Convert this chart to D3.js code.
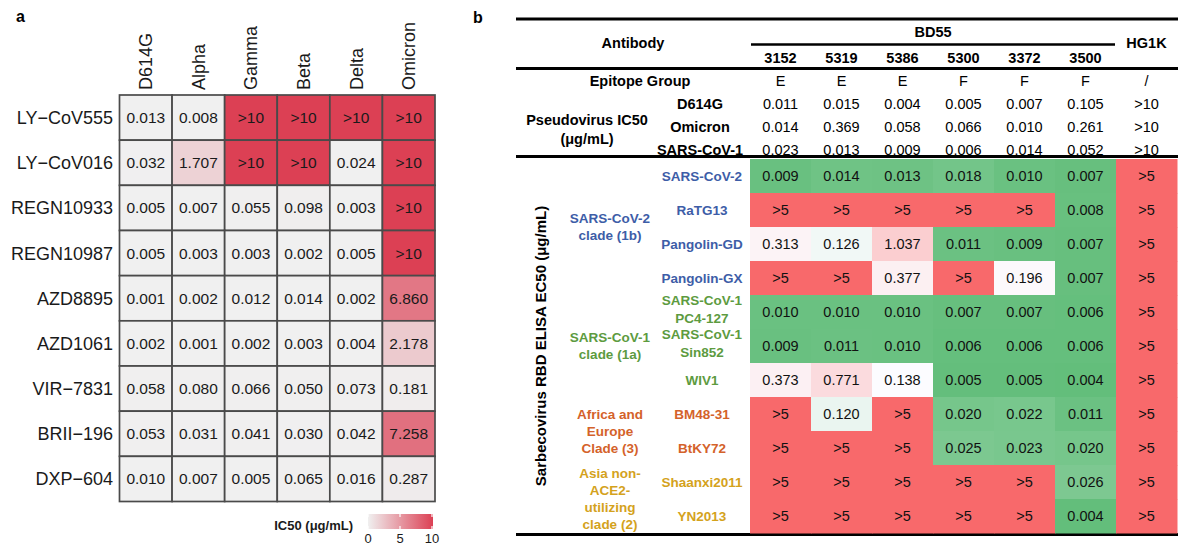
<!DOCTYPE html>
<html>
<head>
<meta charset="utf-8">
<script src="https://cdn.jsdelivr.net/npm/d3@7"></script>
<style>
body { margin: 0; background: #fff; }
svg { font-family: "Liberation Sans", Arial, sans-serif; }
</style>
</head>
<body>
<div class="graph"></div>
<script>
// panel a
const variants = ['D614G', 'Alpha', 'Gamma', 'Beta', 'Delta', 'Omicron'];
const antibodiesA = ['LY−CoV555', 'LY−CoV016', 'REGN10933', 'REGN10987', 'AZD8895', 'AZD1061', 'VIR−7831', 'BRII−196', 'DXP−604'];
const ic50A = [
    ['0.013', '0.008', '>10', '>10', '>10', '>10'],
    ['0.032', '1.707', '>10', '>10', '0.024', '>10'],
    ['0.005', '0.007', '0.055', '0.098', '0.003', '>10'],
    ['0.005', '0.003', '0.003', '0.002', '0.005', '>10'],
    ['0.001', '0.002', '0.012', '0.014', '0.002', '6.860'],
    ['0.002', '0.001', '0.002', '0.003', '0.004', '2.178'],
    ['0.058', '0.080', '0.066', '0.050', '0.073', '0.181'],
    ['0.053', '0.031', '0.041', '0.030', '0.042', '7.258'],
    ['0.010', '0.007', '0.005', '0.065', '0.016', '0.287']
];
const legendTicks = [0, 5, 10];

// panel b
const bd55Ids = ['3152', '5319', '5386', '5300', '3372', '3500'];
const antibodiesB = [...bd55Ids, 'HG1K'];
const epitopeGroups = ['E', 'E', 'E', 'F', 'F', 'F', '/'];
const pseudoStrains = ['D614G', 'Omicron', 'SARS-CoV-1'];
const pseudoIC50 = [
    ['0.011', '0.015', '0.004', '0.005', '0.007', '0.105', '>10'],
    ['0.014', '0.369', '0.058', '0.066', '0.010', '0.261', '>10'],
    ['0.023', '0.013', '0.009', '0.006', '0.014', '0.052', '>10']
];
const viruses = [['SARS-CoV-2'], ['RaTG13'], ['Pangolin-GD'], ['Pangolin-GX'], ['SARS-CoV-1', 'PC4-127'],
    ['SARS-CoV-1', 'Sin852'], ['WIV1'], ['BM48-31'], ['BtKY72'], ['Shaanxi2011'], ['YN2013']];
const virusClade = [0, 0, 0, 0, 1, 1, 1, 2, 2, 3, 3];
const cladeNames = [['SARS-CoV-2', 'clade (1b)'], ['SARS-CoV-1', 'clade (1a)'],
    ['Africa and', 'Europe', 'Clade (3)'], ['Asia non-', 'ACE2-', 'utilizing', 'clade (2)']];
const ec50 = [
    ['0.009', '0.014', '0.013', '0.018', '0.010', '0.007', '>5'],
    ['>5', '>5', '>5', '>5', '>5', '0.008', '>5'],
    ['0.313', '0.126', '1.037', '0.011', '0.009', '0.007', '>5'],
    ['>5', '>5', '0.377', '>5', '0.196', '0.007', '>5'],
    ['0.010', '0.010', '0.010', '0.007', '0.007', '0.006', '>5'],
    ['0.009', '0.011', '0.010', '0.006', '0.006', '0.006', '>5'],
    ['0.373', '0.771', '0.138', '0.005', '0.005', '0.004', '>5'],
    ['>5', '0.120', '>5', '0.020', '0.022', '0.011', '>5'],
    ['>5', '>5', '>5', '0.025', '0.023', '0.020', '>5'],
    ['>5', '>5', '>5', '>5', '>5', '0.026', '>5'],
    ['>5', '>5', '>5', '>5', '>5', '0.004', '>5']
];

const cladeColors = ['#3d5da7', '#5d9b3f', '#d4622a', '#d4a21c'];

const width = 1180, height = 549;
const svg = d3.select('.graph')
    .append('svg')
    .attr('width', width)
    .attr('height', height);

const toNum = s => s.startsWith('>') ? +s.slice(1) : +s;

drawPanelA();
drawPanelB();

function drawPanelA() {
    const g = svg.append('g');
    const xScale = d3.scaleBand().domain(variants).range([119.5, 435]);
    const yScale = d3.scaleBand().domain(antibodiesA).range([95, 501.5]);
    const colorScale = d3.scaleLinear()
        .domain([0, 10])
        .range(['#f0f0f0', '#dc4054'])
        .clamp(true);

    g.append('text')
        .attr('x', 16).attr('y', 22)
        .style('font-size', '16px').style('font-weight', 'bold')
        .text('a');

    const cells = ic50A.flatMap((row, i) => row.map((v, j) => ({ ab: antibodiesA[i], variant: variants[j], v })));
    g.selectAll('rect.cell')
        .data(cells)
        .enter()
        .append('rect')
        .classed('cell', true)
        .attr('x', d => xScale(d.variant))
        .attr('y', d => yScale(d.ab))
        .attr('width', xScale.bandwidth())
        .attr('height', yScale.bandwidth())
        .attr('fill', d => colorScale(toNum(d.v)))
        .attr('stroke', '#4a4a4a')
        .attr('stroke-width', 1.7);
    g.selectAll('text.val')
        .data(cells)
        .enter()
        .append('text')
        .classed('val', true)
        .attr('x', d => xScale(d.variant) + xScale.bandwidth() / 2)
        .attr('y', d => yScale(d.ab) + yScale.bandwidth() / 2)
        .attr('dy', '0.36em')
        .attr('text-anchor', 'middle')
        .style('font-size', '15.5px')
        .attr('fill', '#1a1a1a')
        .text(d => d.v);

    g.selectAll('text.rowlab')
        .data(antibodiesA)
        .enter()
        .append('text')
        .classed('rowlab', true)
        .attr('x', 113)
        .attr('y', d => yScale(d) + yScale.bandwidth() / 2)
        .attr('dy', '0.36em')
        .attr('text-anchor', 'end')
        .style('font-size', '18px')
        .attr('fill', '#1a1a1a')
        .text(d => d);
    g.selectAll('text.collab')
        .data(variants)
        .enter()
        .append('text')
        .classed('collab', true)
        .attr('transform', d => `translate(${xScale(d) + xScale.bandwidth() / 2},90) rotate(-90)`)
        .attr('dy', '0.36em')
        .style('font-size', '18px')
        .attr('fill', '#1a1a1a')
        .text(d => d);

    // legend
    const lx = d3.scaleLinear().domain([0, 10]).range([368, 432]);
    const grad = svg.append('defs').append('linearGradient').attr('id', 'ic50grad');
    grad.selectAll('stop')
        .data(d3.range(0, 11))
        .enter()
        .append('stop')
        .attr('offset', d => d * 10 + '%')
        .attr('stop-color', d => colorScale(d));
    g.append('rect')
        .attr('x', lx(0)).attr('y', 514)
        .attr('width', lx(10) - lx(0) + 1).attr('height', 15)
        .attr('fill', 'url(#ic50grad)');
    g.selectAll('line.ltick')
        .data(legendTicks.flatMap(t => [[t, 514, 517], [t, 526, 529]]))
        .enter()
        .append('line')
        .attr('x1', d => lx(d[0])).attr('x2', d => lx(d[0]))
        .attr('y1', d => d[1]).attr('y2', d => d[2])
        .attr('stroke', '#fff').attr('stroke-width', 1.2);
    g.selectAll('text.ltick')
        .data(legendTicks)
        .enter()
        .append('text')
        .attr('x', d => lx(d))
        .attr('y', 543)
        .attr('text-anchor', 'middle')
        .style('font-size', '13px')
        .attr('fill', '#1a1a1a')
        .text(d => d);
    g.append('text')
        .attr('x', 353).attr('y', 530)
        .attr('text-anchor', 'end')
        .style('font-size', '13px').style('font-weight', 'bold')
        .attr('fill', '#1a1a1a')
        .text('IC50 (μg/mL)');
}

function drawPanelB() {
    const g = svg.append('g');
    const left = 516, right = 1178;
    const xScale = d3.scaleBand().domain(antibodiesB).range([750, 1177]);
    const cx = d => xScale(d) + xScale.bandwidth() / 2;
    const yScale = d3.scaleBand().domain(d3.range(viruses.length)).range([159, 533]);
    const pseudoY = d3.scalePoint().domain(pseudoStrains).range([109, 154.5]);
    const colorScale = d3.scaleLinear()
        .domain([0.004, 0.135, 3])
        .range(['#63be7b', '#fcfcff', '#f8696b'])
        .clamp(true);

    g.append('text')
        .attr('x', 473).attr('y', 23)
        .style('font-size', '16px').style('font-weight', 'bold')
        .text('b');

    // rules
    const rules = [[left, right, 19, 3], [left, right, 68.5, 3], [left, right, 156.5, 3], [left, right, 534.5, 3],
        [xScale(bd55Ids[0]) + 1, xScale('HG1K') - 1, 44.5, 2.5]];
    g.selectAll('line.rule')
        .data(rules)
        .enter()
        .append('line')
        .attr('x1', d => d[0]).attr('x2', d => d[1])
        .attr('y1', d => d[2]).attr('y2', d => d[2])
        .attr('stroke', '#000')
        .attr('stroke-width', d => d[3]);

    // header
    const bold = sel => sel.style('font-weight', 'bold').attr('text-anchor', 'middle').style('font-size', '14.5px');
    g.append('text').attr('x', 633).attr('y', 48).text('Antibody').call(bold);
    g.append('text').attr('x', (xScale(bd55Ids[0]) + xScale('HG1K')) / 2).attr('y', 37).text('BD55').call(bold);
    g.append('text').attr('x', cx('HG1K')).attr('y', 48).text('HG1K').call(bold);
    g.selectAll('text.id')
        .data(bd55Ids)
        .enter()
        .append('text')
        .attr('x', cx)
        .attr('y', 63)
        .text(d => d)
        .call(bold);
    g.append('text').attr('x', 640).attr('y', 86).text('Epitope Group').call(bold);
    g.selectAll('text.epi')
        .data(epitopeGroups)
        .enter()
        .append('text')
        .attr('x', (d, i) => cx(antibodiesB[i]))
        .attr('y', 86)
        .attr('text-anchor', 'middle')
        .style('font-size', '14.5px')
        .text(d => d);
    g.append('text').attr('x', 587).attr('y', 125).text('Pseudovirus IC50').call(bold);
    g.append('text').attr('x', 587).attr('y', 144).text('(μg/mL)').call(bold);
    g.selectAll('text.strain')
        .data(pseudoStrains)
        .enter()
        .append('text')
        .attr('x', 700)
        .attr('y', d => pseudoY(d))
        .text(d => d)
        .call(bold);
    const pseudoCells = pseudoIC50.flatMap((row, i) => row.map((v, j) => ({ strain: pseudoStrains[i], ab: antibodiesB[j], v })));
    g.selectAll('text.pv')
        .data(pseudoCells)
        .enter()
        .append('text')
        .attr('x', d => cx(d.ab))
        .attr('y', d => pseudoY(d.strain))
        .attr('text-anchor', 'middle')
        .style('font-size', '14.5px')
        .text(d => d.v);

    // heatmap
    const cells = ec50.flatMap((row, i) => row.map((v, j) => ({ r: i, ab: antibodiesB[j], v })));
    g.selectAll('rect.ec')
        .data(cells)
        .enter()
        .append('rect')
        .attr('x', d => xScale(d.ab))
        .attr('y', d => yScale(d.r))
        .attr('width', xScale.bandwidth() + 0.5)
        .attr('height', yScale.bandwidth() + 0.5)
        .attr('fill', d => colorScale(toNum(d.v)));
    g.selectAll('text.ec')
        .data(cells)
        .enter()
        .append('text')
        .attr('x', d => cx(d.ab))
        .attr('y', d => yScale(d.r) + yScale.bandwidth() / 2)
        .attr('dy', '0.36em')
        .attr('text-anchor', 'middle')
        .style('font-size', '14.5px')
        .attr('fill', '#111')
        .text(d => d.v);

    // virus labels
    const lineH = 17.5;
    g.selectAll('text.virus')
        .data(viruses)
        .enter()
        .append('text')
        .attr('text-anchor', 'middle')
        .style('font-size', '13.5px')
        .style('font-weight', 'bold')
        .attr('fill', (d, i) => cladeColors[virusClade[i]])
        .each(function (d, i) {
            const mid = yScale(i) + yScale.bandwidth() / 2 - (d.length > 1 ? 3 : 0);
            d3.select(this).selectAll('tspan')
                .data(d)
                .enter()
                .append('tspan')
                .attr('x', 702)
                .attr('y', (t, k) => mid + (k - (d.length - 1) / 2) * lineH)
                .attr('dy', '0.36em')
                .text(t => t);
        });

    // clade labels
    g.selectAll('text.clade')
        .data(cladeNames)
        .enter()
        .append('text')
        .attr('text-anchor', 'middle')
        .style('font-size', '13.5px')
        .style('font-weight', 'bold')
        .attr('fill', (d, i) => cladeColors[i])
        .each(function (d, i) {
            const rows = virusClade.map((c, k) => c === i ? k : -1).filter(k => k >= 0);
            const mid = d3.mean(rows, k => yScale(k) + yScale.bandwidth() / 2);
            d3.select(this).selectAll('tspan')
                .data(d)
                .enter()
                .append('tspan')
                .attr('x', 610)
                .attr('y', (t, k) => mid + (k - (d.length - 1) / 2) * 17)
                .attr('dy', '0.36em')
                .text(t => t);
        });

    g.append('text')
        .attr('transform', `translate(540.5,${(yScale.range()[0] + yScale.range()[1]) / 2}) rotate(-90)`)
        .attr('dy', '0.36em')
        .attr('text-anchor', 'middle')
        .style('font-size', '15px')
        .style('font-weight', 'bold')
        .text('Sarbecovirus RBD ELISA EC50 (μg/mL)');
}
</script>
</body>
</html>
